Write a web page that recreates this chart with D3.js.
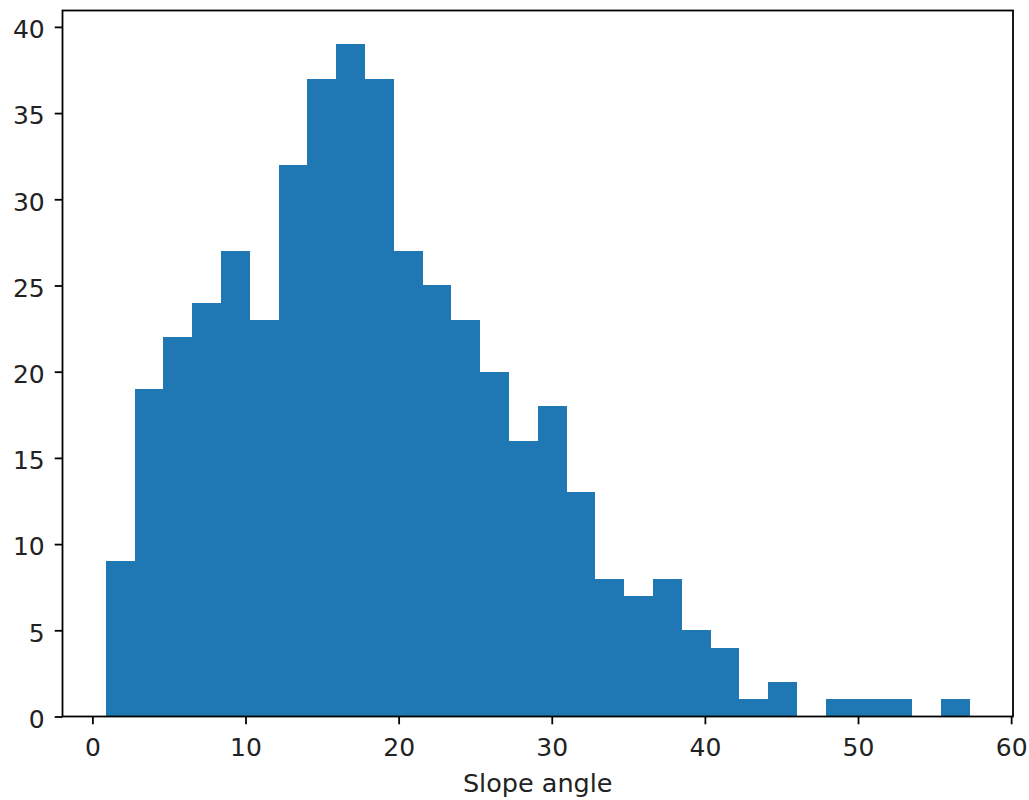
<!DOCTYPE html>
<html>
<head>
<meta charset="utf-8">
<script src="https://cdn.jsdelivr.net/npm/d3@7"></script>
<style>
  body { margin: 0; background: #fff; }
  text { font-family: "DejaVu Sans", sans-serif; }
</style>
</head>
<body>
<div id="chart-container"></div>
<script>
// histogram data
const binLo = 0.87;
const binHi = 57.3;
const counts = [9, 19, 22, 24, 27, 23, 32, 37, 39, 37, 27, 25, 23, 20, 16, 18, 13, 8, 7, 8, 5, 4, 1, 2, 0, 1, 1, 1, 0, 1];
const xTicks = [0, 10, 20, 30, 40, 50, 60];
const yTicks = [0, 5, 10, 15, 20, 25, 30, 35, 40];
const xLabel = "Slope angle";

// dimensions
const W = 1029, H = 800;
const margin = { top: 10.5, right: 16, bottom: 83.5, left: 62.5 };
const width = W - margin.left - margin.right;
const height = H - margin.top - margin.bottom;

// bins
const binW = (binHi - binLo) / counts.length;
const bins = counts.map((c, i) => ({ x0: binLo + i * binW, x1: binLo + (i + 1) * binW, n: c }));

// scales (matplotlib style 5% x margin, 5% top margin)
const pad = (binHi - binLo) * 0.05;
const xScale = d3.scaleLinear().domain([binLo - pad, binHi + pad]).range([0, width]);
const yScale = d3.scaleLinear().domain([0, d3.max(counts) * 1.05]).range([height, 0]);

const svg = d3
  .select("#chart-container")
  .append("svg")
  .attr("width", W)
  .attr("height", H)
  .append("g")
  .attr("transform", `translate(${margin.left}, ${margin.top})`);

// bars
svg
  .selectAll("rect.bar")
  .data(bins.filter((d) => d.n > 0))
  .join("rect")
  .attr("class", "bar")
  .attr("x", (d) => xScale(d.x0))
  .attr("width", (d) => xScale(d.x1) - xScale(d.x0))
  .attr("y", (d) => yScale(d.n))
  .attr("height", (d) => yScale(0) - yScale(d.n))
  .attr("fill", "#1f77b4")
  .attr("shape-rendering", "crispEdges");

// x-axis
svg
  .append("g")
  .attr("transform", `translate(0, ${height})`)
  .call(d3.axisBottom(xScale).tickValues(xTicks).tickFormat(d3.format("d")).tickSize(7.8).tickPadding(14))
  .call((g) => g.select(".domain").remove())
  .call((g) => g.selectAll(".tick line").attr("stroke", "#000").attr("stroke-width", 1.8))
  .call((g) => g.selectAll(".tick text").attr("fill", "#222").style("font-size", "25px"));

// y-axis
svg
  .append("g")
  .call(d3.axisLeft(yScale).tickValues(yTicks).tickFormat(d3.format("d")).tickSize(7.8).tickPadding(10))
  .call((g) => g.select(".domain").remove())
  .call((g) => g.selectAll(".tick line").attr("stroke", "#000").attr("stroke-width", 1.8))
  .call((g) => g.selectAll(".tick text").attr("fill", "#222").attr("dy", "0.43em").style("font-size", "25px"));

// spines
svg
  .append("rect")
  .attr("x", 0)
  .attr("y", 0)
  .attr("width", width)
  .attr("height", height)
  .attr("fill", "none")
  .attr("stroke", "#000")
  .attr("stroke-width", 1.8);

// x label
svg
  .append("text")
  .attr("x", width / 2)
  .attr("y", height + 75.5)
  .style("text-anchor", "middle")
  .style("font-size", "25.5px")
  .attr("fill", "#222")
  .text(xLabel);
</script>
</body>
</html>
